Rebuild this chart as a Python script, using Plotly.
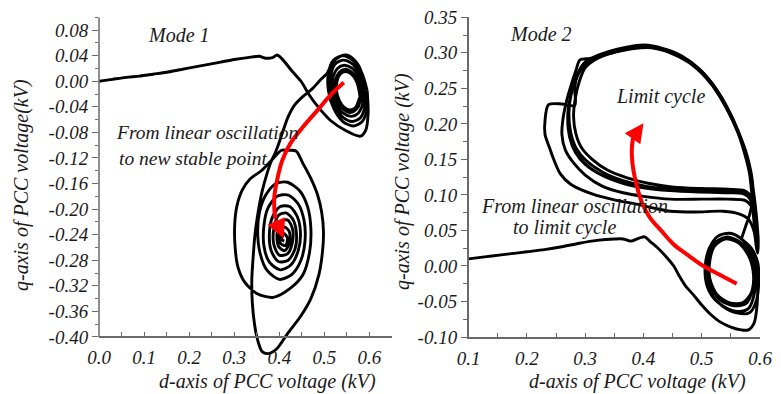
import plotly.graph_objects as go

# ---------------- values ----------------
# Mode 1 (left panel): d-axis / q-axis PCC voltage (kV)
m1_approach = [(0.000, 0.000), (0.010, 0.001), (0.030, 0.003), (0.060, 0.006), (0.090, 0.008),
               (0.120, 0.011), (0.150, 0.014), (0.180, 0.018), (0.210, 0.022), (0.240, 0.026),
               (0.270, 0.030), (0.300, 0.034), (0.330, 0.037), (0.355, 0.039), (0.370, 0.036),
               (0.385, 0.037), (0.395, 0.041), (0.406, 0.035), (0.428, 0.016), (0.450, -0.002),
               (0.465, -0.020), (0.487, -0.041), (0.513, -0.061), (0.547, -0.077), (0.580, -0.086),
               (0.592, -0.076), (0.597, -0.050), (0.595, -0.015)]
m1_orbit = [(0.595, -0.015), (0.583, 0.013), (0.563, 0.033), (0.540, 0.040), (0.520, 0.033),
            (0.509, 0.013), (0.509, -0.015), (0.521, -0.043), (0.541, -0.063), (0.564, -0.070),
            (0.584, -0.063), (0.595, -0.043),
            (0.590, -0.015), (0.580, 0.009), (0.562, 0.027), (0.542, 0.033), (0.524, 0.027),
            (0.514, 0.009), (0.514, -0.015), (0.524, -0.039), (0.542, -0.057), (0.562, -0.063),
            (0.580, -0.057), (0.590, -0.039),
            (0.585, -0.015), (0.577, 0.005), (0.562, 0.020), (0.544, 0.025), (0.529, 0.020),
            (0.519, 0.005), (0.519, -0.015), (0.527, -0.035), (0.542, -0.050), (0.560, -0.055),
            (0.575, -0.050), (0.585, -0.035),
            (0.580, -0.015), (0.573, 0.002), (0.561, 0.014), (0.546, 0.019), (0.533, 0.014),
            (0.525, 0.002), (0.524, -0.015), (0.531, -0.032), (0.543, -0.044), (0.558, -0.049),
            (0.571, -0.044), (0.579, -0.032),
            (0.577, -0.015), (0.571, 0.000), (0.560, 0.011), (0.547, 0.015), (0.535, 0.011),
            (0.528, 0.000), (0.527, -0.015), (0.533, -0.030), (0.544, -0.041), (0.557, -0.045),
            (0.569, -0.041), (0.576, -0.030),
            (0.584, -0.012), (0.583, 0.012), (0.568, 0.032), (0.548, 0.041), (0.528, 0.036),
            (0.513, 0.022), (0.506, 0.012)]
m1_descent = [(0.506, 0.012), (0.490, 0.001), (0.473, -0.012), (0.452, -0.024), (0.433, -0.038),
              (0.420, -0.055), (0.410, -0.074), (0.400, -0.095), (0.391, -0.112), (0.381, -0.127),
              (0.372, -0.146), (0.362, -0.172), (0.353, -0.205), (0.346, -0.240), (0.342, -0.275),
              (0.339, -0.310), (0.340, -0.345), (0.345, -0.380), (0.352, -0.405), (0.362, -0.423),
              (0.376, -0.426), (0.395, -0.418), (0.418, -0.395), (0.447, -0.368), (0.470, -0.340),
              (0.488, -0.302), (0.496, -0.265), (0.498, -0.235), (0.494, -0.205), (0.485, -0.178),
              (0.470, -0.152), (0.452, -0.128), (0.437, -0.109), (0.420, -0.108), (0.405, -0.108),
              (0.385, -0.122), (0.360, -0.140), (0.335, -0.153), (0.318, -0.170), (0.306, -0.195),
              (0.301, -0.225), (0.302, -0.260), (0.308, -0.290), (0.322, -0.313), (0.350, -0.332),
              (0.387, -0.338), (0.424, -0.324), (0.452, -0.303), (0.467, -0.268), (0.470, -0.230),
              (0.463, -0.197), (0.446, -0.172), (0.418, -0.158), (0.393, -0.160), (0.370, -0.178),
              (0.356, -0.205), (0.352, -0.235), (0.357, -0.268), (0.372, -0.295), (0.400, -0.310),
              (0.428, -0.302), (0.448, -0.280), (0.457, -0.250), (0.455, -0.218), (0.442, -0.192),
              (0.420, -0.178), (0.395, -0.180), (0.375, -0.198), (0.366, -0.225), (0.366, -0.258),
              (0.378, -0.283), (0.402, -0.295), (0.426, -0.287), (0.442, -0.265), (0.447, -0.238),
              (0.440, -0.212), (0.423, -0.196), (0.402, -0.196), (0.385, -0.212), (0.378, -0.238),
              (0.382, -0.265), (0.398, -0.282), (0.420, -0.280), (0.435, -0.262), (0.438, -0.238),
              (0.430, -0.216), (0.415, -0.206), (0.398, -0.210), (0.388, -0.230), (0.388, -0.256),
              (0.400, -0.272), (0.418, -0.270), (0.429, -0.252), (0.429, -0.230), (0.418, -0.217),
              (0.403, -0.220), (0.395, -0.238), (0.398, -0.258), (0.412, -0.265), (0.423, -0.252),
              (0.422, -0.235), (0.411, -0.228), (0.401, -0.238), (0.403, -0.254), (0.414, -0.257),
              (0.418, -0.245), (0.410, -0.238), (0.405, -0.247), (0.411, -0.250)]
m1_arrow = [(0.543, -0.002), (0.513, -0.022), (0.484, -0.046), (0.452, -0.072), (0.424, -0.098),
            (0.406, -0.125), (0.395, -0.155), (0.389, -0.180), (0.389, -0.200), (0.391, -0.215)]
m1_arrow_tip = (0.410, -0.246)

# Mode 2 (right panel)
m2_approach = [(0.100, 0.010), (0.120, 0.012), (0.140, 0.014), (0.170, 0.017), (0.200, 0.020),
               (0.230, 0.023), (0.260, 0.027), (0.290, 0.032), (0.320, 0.036), (0.350, 0.038),
               (0.365, 0.038), (0.378, 0.035), (0.392, 0.039), (0.402, 0.041), (0.412, 0.034),
               (0.425, 0.025), (0.440, 0.012), (0.452, 0.000), (0.462, -0.015), (0.472, -0.028),
               (0.485, -0.040), (0.500, -0.055), (0.515, -0.068), (0.530, -0.078), (0.550, -0.086),
               (0.568, -0.090), (0.580, -0.090), (0.590, -0.080), (0.595, -0.055), (0.596, -0.025),
               (0.594, 0.000), (0.585, 0.020), (0.568, 0.038), (0.548, 0.046), (0.528, 0.042),
               (0.513, 0.025), (0.506, 0.000), (0.508, -0.025), (0.520, -0.045), (0.540, -0.058),
               (0.562, -0.064), (0.580, -0.060), (0.590, -0.040),
               (0.592, -0.012), (0.584, 0.014), (0.568, 0.032), (0.548, 0.040), (0.530, 0.036),
               (0.516, 0.018), (0.511, -0.005), (0.516, -0.030), (0.532, -0.048), (0.555, -0.056),
               (0.576, -0.053), (0.587, -0.033),
               (0.588, -0.006), (0.578, 0.018), (0.560, 0.034), (0.540, 0.038), (0.522, 0.028),
               (0.514, 0.008), (0.514, -0.018), (0.526, -0.040), (0.548, -0.052), (0.570, -0.052),
               (0.585, -0.038),
               (0.589, -0.012), (0.583, 0.012), (0.566, 0.032), (0.545, 0.041), (0.525, 0.034),
               (0.512, 0.014), (0.509, -0.012), (0.516, -0.038), (0.535, -0.056), (0.560, -0.066),
               (0.582, -0.066), (0.594, -0.048), (0.598, -0.018), (0.596, 0.005), (0.585, 0.025),
               (0.568, 0.038)]
m2_growth = [(0.568, 0.038), (0.575, 0.055), (0.582, 0.072), (0.587, 0.090), (0.588, 0.110),
             (0.585, 0.130), (0.578, 0.155), (0.565, 0.185), (0.547, 0.218), (0.524, 0.250),
             (0.497, 0.276), (0.467, 0.294), (0.436, 0.304), (0.405, 0.308), (0.375, 0.306),
             (0.345, 0.300), (0.318, 0.293), (0.300, 0.287), (0.287, 0.270), (0.282, 0.250),
             (0.282, 0.226), (0.260, 0.228), (0.237, 0.227), (0.231, 0.205), (0.231, 0.185),
             (0.238, 0.168), (0.245, 0.152), (0.257, 0.130), (0.275, 0.115), (0.313, 0.101),
             (0.350, 0.093), (0.388, 0.087), (0.420, 0.081), (0.446, 0.077), (0.490, 0.076),
             (0.537, 0.077), (0.565, 0.073), (0.580, 0.066), (0.590, 0.048), (0.594, 0.025),
             (0.596, 0.018), (0.597, 0.035), (0.595, 0.060), (0.592, 0.085), (0.588, 0.110),
             (0.582, 0.140), (0.570, 0.172), (0.553, 0.205), (0.532, 0.238), (0.506, 0.266),
             (0.477, 0.287), (0.446, 0.300), (0.414, 0.307), (0.383, 0.306), (0.352, 0.301),
             (0.325, 0.295), (0.308, 0.292), (0.291, 0.290), (0.284, 0.275), (0.276, 0.255),
             (0.268, 0.232), (0.262, 0.208), (0.260, 0.185), (0.266, 0.163), (0.280, 0.145),
             (0.300, 0.128), (0.330, 0.112), (0.365, 0.103), (0.400, 0.098), (0.446, 0.094),
             (0.500, 0.094), (0.545, 0.094), (0.575, 0.092), (0.588, 0.080), (0.593, 0.055),
             (0.594, 0.035), (0.593, 0.055), (0.590, 0.085), (0.587, 0.105)]
m2_cycle = [(0.587, 0.105), (0.584, 0.125), (0.576, 0.155), (0.563, 0.188), (0.545, 0.220),
            (0.522, 0.252), (0.496, 0.277), (0.466, 0.295), (0.435, 0.305), (0.402, 0.310),
            (0.372, 0.307), (0.342, 0.302), (0.315, 0.294), (0.298, 0.285), (0.286, 0.267),
            (0.276, 0.242), (0.272, 0.215), (0.275, 0.188), (0.285, 0.165), (0.302, 0.148),
            (0.330, 0.132), (0.365, 0.120), (0.405, 0.112), (0.450, 0.108), (0.500, 0.106),
            (0.545, 0.106), (0.572, 0.104), (0.584, 0.096), (0.590, 0.072), (0.592, 0.050),
            (0.590, 0.075), (0.586, 0.100),
            (0.583, 0.128), (0.574, 0.158), (0.561, 0.190), (0.543, 0.222), (0.520, 0.254),
            (0.494, 0.278), (0.464, 0.296), (0.433, 0.306), (0.400, 0.309), (0.370, 0.306),
            (0.340, 0.300), (0.312, 0.290), (0.294, 0.278), (0.283, 0.260), (0.274, 0.235),
            (0.270, 0.208), (0.273, 0.182), (0.283, 0.160), (0.300, 0.143), (0.328, 0.128),
            (0.362, 0.117), (0.400, 0.110), (0.445, 0.106), (0.495, 0.104), (0.540, 0.103),
            (0.570, 0.102), (0.583, 0.094), (0.589, 0.068), (0.591, 0.045), (0.589, 0.072),
            (0.586, 0.100),
            (0.582, 0.130), (0.573, 0.160), (0.560, 0.192), (0.541, 0.224), (0.518, 0.255),
            (0.492, 0.279), (0.462, 0.296), (0.431, 0.305), (0.400, 0.308), (0.370, 0.305),
            (0.341, 0.299), (0.316, 0.290), (0.300, 0.279), (0.290, 0.260), (0.283, 0.236),
            (0.280, 0.210), (0.284, 0.186), (0.294, 0.166), (0.312, 0.150), (0.338, 0.135),
            (0.372, 0.124), (0.410, 0.116), (0.452, 0.111), (0.500, 0.109), (0.545, 0.108),
            (0.573, 0.106), (0.585, 0.097), (0.590, 0.070), (0.593, 0.040), (0.591, 0.070),
            (0.587, 0.100),
            (0.584, 0.128), (0.575, 0.158), (0.562, 0.190), (0.544, 0.222), (0.521, 0.253),
            (0.495, 0.278), (0.465, 0.296), (0.434, 0.306), (0.401, 0.311), (0.371, 0.308),
            (0.341, 0.302), (0.314, 0.293), (0.296, 0.282), (0.284, 0.264), (0.275, 0.240),
            (0.270, 0.213), (0.272, 0.187), (0.281, 0.164), (0.297, 0.146), (0.323, 0.130),
            (0.358, 0.118), (0.398, 0.111), (0.443, 0.107), (0.495, 0.105), (0.545, 0.105),
            (0.574, 0.103), (0.586, 0.093), (0.591, 0.065)]
m2_arrow = [(0.560, -0.025), (0.530, -0.012), (0.503, 0.000), (0.475, 0.016), (0.451, 0.031),
            (0.430, 0.050), (0.411, 0.068), (0.398, 0.088), (0.391, 0.105), (0.385, 0.125),
            (0.381, 0.145), (0.380, 0.165), (0.382, 0.180)]
m2_arrow_tip = (0.400, 0.201)

# axis ticks
x1_ticks = [0.0, 0.1, 0.2, 0.3, 0.4, 0.5, 0.6]
x1_labels = ["0.0", "0.1", "0.2", "0.3", "0.4", "0.5", "0.6"]
x1_minor = [0.05, 0.15, 0.25, 0.35, 0.45, 0.55, 0.65]
y1_ticks = [-0.40, -0.36, -0.32, -0.28, -0.24, -0.20, -0.16, -0.12, -0.08, -0.04, 0.00, 0.04, 0.08]
y1_labels = ["-0.40", "-0.36", "-0.32", "-0.28", "-0.24", "-0.20", "-0.16", "-0.12", "-0.08",
             "-0.04", "0.00", "0.04", "0.08"]
y1_minor = [-0.38, -0.34, -0.30, -0.26, -0.22, -0.18, -0.14, -0.10, -0.06, -0.02, 0.02, 0.06, 0.10]
x2_ticks = [0.1, 0.2, 0.3, 0.4, 0.5, 0.6]
x2_labels = ["0.1", "0.2", "0.3", "0.4", "0.5", "0.6"]
x2_minor = [0.15, 0.25, 0.35, 0.45, 0.55]
y2_ticks = [-0.10, -0.05, 0.00, 0.05, 0.10, 0.15, 0.20, 0.25, 0.30, 0.35]
y2_labels = ["-0.10", "-0.05", "0.00", "0.05", "0.10", "0.15", "0.20", "0.25", "0.30", "0.35"]
y2_minor = [-0.075, -0.025, 0.025, 0.075, 0.125, 0.175, 0.225, 0.275, 0.325]

# ---------------- styling / layout ----------------
W, H = 781, 394
AX = "#6a6a6a"
TXT = "#1a1a1a"
FONT = "Liberation Serif"
TICKFONT = dict(family=FONT, size=19, color=TXT, style="italic")


def fx(p):
    return p / W


def fy(p):
    return 1 - p / H


def split(points):
    return [p[0] for p in points], [p[1] for p in points]


fig = go.Figure()
line_style = dict(color="black", width=2.9, shape="spline", smoothing=0.8)
for seg in (m1_approach, m1_orbit, m1_descent):
    d, q = split(seg)
    fig.add_trace(go.Scatter(x=d, y=q, mode="lines", line=line_style, xaxis="x", yaxis="y",
                             hoverinfo="skip", showlegend=False))
for seg in (m2_approach, m2_growth, m2_cycle):
    d, q = split(seg)
    fig.add_trace(go.Scatter(x=d, y=q, mode="lines", line=line_style, xaxis="x2", yaxis="y2",
                             hoverinfo="skip", showlegend=False))

red_style = dict(color="#ff0000", width=4, shape="spline")
d, q = split(m1_arrow)
fig.add_trace(go.Scatter(x=d, y=q, mode="lines", line=red_style, xaxis="x", yaxis="y",
                         hoverinfo="skip", showlegend=False))
d, q = split(m2_arrow)
fig.add_trace(go.Scatter(x=d, y=q, mode="lines", line=red_style, xaxis="x2", yaxis="y2",
                         hoverinfo="skip", showlegend=False))

annotations = [
    dict(x=m1_arrow_tip[0], y=m1_arrow_tip[1], ax=m1_arrow[-1][0], ay=m1_arrow[-1][1],
         xref="x", yref="y", axref="x", ayref="y", text="", showarrow=True,
         arrowhead=2, arrowsize=1.0, arrowwidth=3.8, arrowcolor="#ff0000", standoff=0),
    dict(x=m2_arrow_tip[0], y=m2_arrow_tip[1], ax=m2_arrow[-1][0], ay=m2_arrow[-1][1],
         xref="x2", yref="y2", axref="x2", ayref="y2", text="", showarrow=True,
         arrowhead=2, arrowsize=1.0, arrowwidth=3.8, arrowcolor="#ff0000", standoff=0),
]


def label(text, x, y, size=20, angle=0, xanchor="center"):
    return dict(text=text, x=fx(x), y=fy(y), xref="paper", yref="paper", showarrow=False,
                xanchor=xanchor, yanchor="middle", textangle=angle,
                font=dict(family=FONT, size=size, color=TXT, style="italic"))


annotations += [
    label("Mode 1", 179, 35),
    label("Mode 2", 541, 34),
    label("From linear oscillation", 114, 133, size=19.5, xanchor="left"),
    label("to new stable point", 117, 158, size=19.5, xanchor="left"),
    label("Limit cycle", 660, 96),
    label("From linear oscillation", 574, 206),
    label("to limit cycle", 564, 228),
    label("d-axis of PCC voltage (kV)", 267, 381),
    label("d-axis of PCC voltage (kV)", 637, 381),
    label("q-axis of PCC voltage(kV)", 21, 185, angle=-90),
    label("q-axis of PCC voltage (kV)", 403, 182, angle=-90),
]

common_x = dict(showgrid=False, zeroline=False, showline=True, linecolor=AX, linewidth=1.5,
                ticks="inside", ticklen=4, tickwidth=1.2, tickcolor=AX, tickfont=TICKFONT,
                ticklabelstandoff=3, fixedrange=True)
common_y = dict(showgrid=False, zeroline=False, ticks="outside", ticklen=6, tickwidth=1.2,
                tickcolor=AX, tickfont=TICKFONT, fixedrange=True)

fig.update_layout(
    template="none",
    width=W, height=H, autosize=False,
    margin=dict(l=0, r=0, t=0, b=0),
    paper_bgcolor="white", plot_bgcolor="rgba(0,0,0,0)",
    hovermode=False, showlegend=False,
    xaxis=dict(domain=[fx(99), fx(392)], range=[0, 0.65], anchor="free", position=fy(337),
               tickmode="array", tickvals=x1_ticks, ticktext=x1_labels,
               minor=dict(tickmode="array", tickvals=x1_minor, ticks="inside", ticklen=4,
                          tickwidth=1.2, tickcolor=AX, showgrid=False),
               **common_x),
    yaxis=dict(domain=[fy(361.9), fy(17.3)], range=[-0.439, 0.10], anchor="x", showline=False,
               tickmode="array", tickvals=y1_ticks, ticktext=y1_labels,
               minor=dict(tickmode="array", tickvals=y1_minor, ticks="outside", ticklen=3.5,
                          tickwidth=1.2, tickcolor=AX, showgrid=False),
               **common_y),
    xaxis2=dict(domain=[fx(468.7), fx(760)], range=[0.1, 0.6], anchor="y2",
                tickmode="array", tickvals=x2_ticks, ticktext=x2_labels,
                minor=dict(tickmode="array", tickvals=x2_minor, ticks="inside", ticklen=4,
                           tickwidth=1.2, tickcolor=AX, showgrid=False),
                **common_x),
    yaxis2=dict(domain=[fy(337), fy(17.3)], range=[-0.10, 0.35], anchor="x2", showline=True,
                linecolor=AX, linewidth=1.5,
                tickmode="array", tickvals=y2_ticks, ticktext=y2_labels,
                minor=dict(tickmode="array", tickvals=y2_minor, ticks="outside", ticklen=3.5,
                           tickwidth=1.2, tickcolor=AX, showgrid=False),
                **common_y),
    shapes=[dict(type="line", xref="x domain", yref="y", x0=0, x1=0, y0=-0.40, y1=0.10,
                 line=dict(color=AX, width=1.5), layer="above")],
    annotations=annotations,
)

fig.write_html("out.html")
